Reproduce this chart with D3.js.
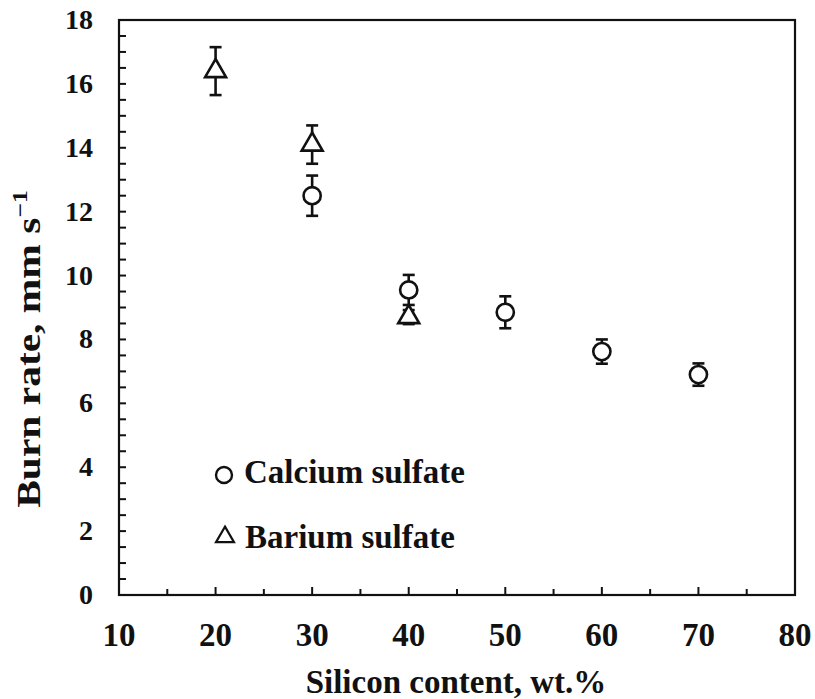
<!DOCTYPE html>
<html>
  <head>
    <meta charset="UTF-8" />
    <script src="https://d3js.org/d3.v7.min.js"></script>
    <style>
      body { margin: 0; background: #fff; }
      text { font-family: "Liberation Serif", "Times New Roman", serif; font-weight: bold; fill: #111; }
    </style>
  </head>
  <body>
    <div id="chart"></div>

    <script>
      // data
      var calciumX = [30, 40, 50, 60, 70];
      var calciumY = [12.5, 9.55, 8.85, 7.62, 6.9];
      var calciumErr = [0.63, 0.47, 0.5, 0.38, 0.35];

      var bariumX = [20, 30, 40];
      var bariumY = [16.4, 14.1, 8.7];
      var bariumErr = [0.75, 0.6, 0.22];

      var xTicks = [10, 20, 30, 40, 50, 60, 70, 80];
      var yTicks = [0, 2, 4, 6, 8, 10, 12, 14, 16, 18];

      var width = 815, height = 699;
      var margin = { top: 20, right: 20, bottom: 104, left: 119 };

      var svg = d3.select("#chart").append("svg")
        .attr("width", width).attr("height", height);

      var x = d3.scaleLinear().domain([10, 80]).range([margin.left, width - margin.right]);
      var y = d3.scaleLinear().domain([0, 18]).range([height - margin.bottom, margin.top]);

      // ticks, pointing inwards
      var g = svg.append("g").attr("stroke", "#111").attr("stroke-width", 2);
      g.selectAll(".xminor").data(d3.range(15, 80, 10)).join("line")
        .attr("x1", d => x(d)).attr("x2", d => x(d))
        .attr("y1", y(0)).attr("y2", y(0) - 6);
      g.selectAll(".xmajor").data(xTicks.slice(1, -1)).join("line")
        .attr("x1", d => x(d)).attr("x2", d => x(d))
        .attr("y1", y(0)).attr("y2", y(0) - 8);
      g.selectAll(".yminor").data(d3.range(0.5, 18, 0.5)).join("line")
        .attr("x1", x(10)).attr("x2", x(10) + 7)
        .attr("y1", d => y(d)).attr("y2", d => y(d));

      // frame
      svg.append("rect")
        .attr("x", x(10)).attr("y", y(18))
        .attr("width", x(80) - x(10)).attr("height", y(0) - y(18))
        .attr("fill", "none").attr("stroke", "#111").attr("stroke-width", 2.2);

      // tick labels
      svg.selectAll(".xl").data(xTicks).join("text")
        .attr("x", d => x(d)).attr("y", y(0) + 51)
        .attr("text-anchor", "middle").attr("font-size", 33)
        .text(d => d);
      svg.selectAll(".yl").data(yTicks).join("text")
        .attr("x", x(10) - 26).attr("y", d => y(d) + 9)
        .attr("text-anchor", "end").attr("font-size", 28)
        .text(d => d);

      // axis titles
      svg.append("text")
        .attr("x", 456).attr("y", 693)
        .attr("text-anchor", "middle").attr("font-size", 33)
        .text("Silicon content, wt.%");
      var yt = svg.append("text")
        .attr("transform", "translate(40,349) rotate(-90) scale(1.22,1)")
        .attr("text-anchor", "middle").attr("font-size", 34);
      yt.append("tspan").text("Burn rate, mm s");
      yt.append("tspan").attr("dy", -13).attr("font-size", 21).text("−1");

      // error bars
      function errBars(xs, ys, es) {
        var d = xs.map((v, i) => ({ x: v, y: ys[i], e: es[i] }));
        var eg = svg.append("g").attr("stroke", "#111").attr("stroke-width", 2.6);
        eg.selectAll(".v").data(d).join("line")
          .attr("x1", d => x(d.x)).attr("x2", d => x(d.x))
          .attr("y1", d => y(d.y - d.e)).attr("y2", d => y(d.y + d.e));
        eg.selectAll(".t").data(d).join("line")
          .attr("x1", d => x(d.x) - 6).attr("x2", d => x(d.x) + 6)
          .attr("y1", d => y(d.y + d.e)).attr("y2", d => y(d.y + d.e));
        eg.selectAll(".b").data(d).join("line")
          .attr("x1", d => x(d.x) - 6).attr("x2", d => x(d.x) + 6)
          .attr("y1", d => y(d.y - d.e)).attr("y2", d => y(d.y - d.e));
        return d;
      }

      var cal = errBars(calciumX, calciumY, calciumErr);
      var bar = errBars(bariumX, bariumY, bariumErr);

      var tri = d3.symbol().type(d3.symbolTriangle).size(190);

      svg.selectAll(".cal").data(cal).join("circle")
        .attr("cx", d => x(d.x)).attr("cy", d => y(d.y)).attr("r", 8.6)
        .attr("fill", "#fff").attr("stroke", "#111").attr("stroke-width", 2.6);
      svg.selectAll(".bar").data(bar).join("path")
        .attr("d", tri)
        .attr("transform", d => "translate(" + x(d.x) + "," + y(d.y) + ")")
        .attr("fill", "#fff").attr("stroke", "#111").attr("stroke-width", 2.6);

      // legend
      svg.append("circle").attr("cx", 224).attr("cy", 475).attr("r", 8)
        .attr("fill", "#fff").attr("stroke", "#111").attr("stroke-width", 2.4);
      svg.append("text").attr("x", 244).attr("y", 483).attr("font-size", 33).text("Calcium sulfate");
      svg.append("path").attr("d", d3.symbol().type(d3.symbolTriangle).size(140)())
        .attr("transform", "translate(225,537)")
        .attr("fill", "#fff").attr("stroke", "#111").attr("stroke-width", 2.2);
      svg.append("text").attr("x", 245).attr("y", 548).attr("font-size", 33).text("Barium sulfate");
    </script>
  </body>
</html>
